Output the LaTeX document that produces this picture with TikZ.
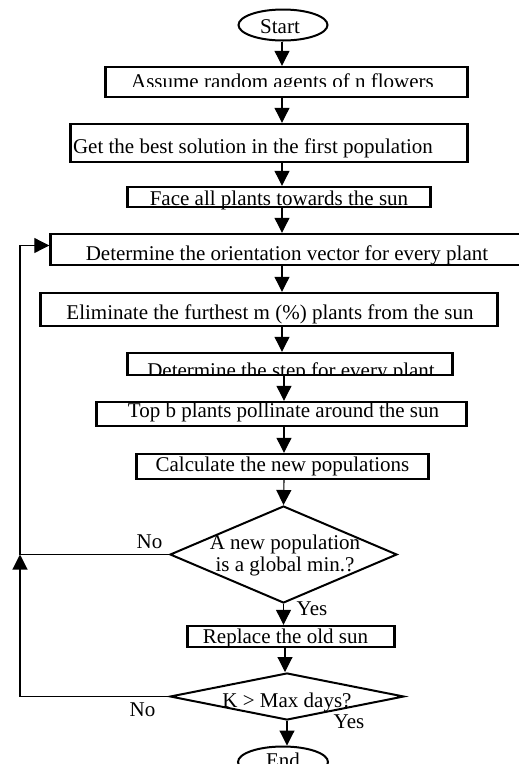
\documentclass[tikz,border=0pt]{standalone}
\usepackage{fontspec}
\setmainfont{Liberation Serif}
\usetikzlibrary{arrows.meta,shapes.geometric}
\tikzset{
  box/.style={draw, line width=2.4pt, rectangle, inner sep=0pt},
  term/.style={draw, line width=2pt, ellipse, inner sep=0pt},
  dec/.style={draw, line width=2pt, diamond, inner sep=0pt},
  txt/.style={anchor=base, inner sep=0pt, font=\fontsize{21}{22}\selectfont},
  conn/.style={line width=1.1pt},
  arr/.style={line width=1.1pt, -{Triangle[length=15pt,width=15pt]}},
}
\begin{document}
\begin{tikzpicture}[x=1pt,y=-1pt]
\useasboundingbox (0,0) rectangle (519,764);
% spine coordinates
\coordinate (sa) at (282,0);
\coordinate (sb) at (284,0);
\coordinate (sc) at (285,0);
\coordinate (lp) at (20,0);
% shapes
\node[term, minimum width=89pt, minimum height=31pt] (start) at (283,25) {};
\node[box, minimum width=362pt, minimum height=30pt] (b1) at (286.5,82) {};
\node[box, minimum width=397pt, minimum height=38pt] (b2) at (269,143) {};
\node[box, minimum width=303pt, minimum height=20pt] (b3) at (279,197) {};
\node[box, minimum width=478pt, minimum height=31pt] (b4) at (289.5,249.5) {};
\node[box, minimum width=457pt, minimum height=33pt] (b5) at (269,309.5) {};
\node[box, minimum width=325pt, minimum height=22pt] (b6) at (290,364) {};
\node[box, minimum width=370pt, minimum height=24pt] (b7) at (281.5,414) {};
\node[box, minimum width=292pt, minimum height=25pt] (b8) at (282.5,466.5) {};
\node[dec, minimum width=227pt, minimum height=97pt] (d1) at (283.5,554.5) {};
\node[box, minimum width=207pt, minimum height=21pt] (b9) at (291,636.5) {};
\node[dec, minimum width=234pt, minimum height=47pt] (d2) at (287,696.5) {};
\node[term, minimum width=90pt, minimum height=31pt] (end) at (283,762) {};
% texts
\node[txt] (tstart) at (280,33) {Start};
\begin{scope}
\clip (104,60) rectangle (469,86);
\node[txt] (t1) at (282.5,88) {Assume random agents of n flowers};
\end{scope}
\node[txt] (t2) at (253,153) {Get the best solution in the first population};
\node[txt] (t3) at (279,205) {Face all plants towards the sun};
\node[txt] (t4) at (287,260) {Determine the orientation vector for every plant};
\node[txt] (t5) at (270,319) {Eliminate the furthest m (\%) plants from the sun};
\begin{scope}
\clip (126,352) rectangle (454,375);
\node[txt] (t6) at (291,377) {Determine the step for every plant};
\end{scope}
\node[txt] (t7) at (283.5,417) {Top b plants pollinate around the sun};
\node[txt] (t8) at (282.5,471) {Calculate the new populations};
\node[txt] (t9a) at (285,549) {A new population};
\node[txt] (t9b) at (285,571) {is a global min.?};
\node[txt] (t10) at (285.5,643) {Replace the old sun};
\node[txt] (t11) at (287,707) {K > Max days?};
\node[txt] (tend) at (283,767) {End};
\node[txt] (no1) at (149.5,548) {No};
\node[txt] (yes1) at (312,615) {Yes};
\node[txt] (no2) at (142.5,716) {No};
\node[txt] (yes2) at (349,728) {Yes};
% connectors
\draw[arr] (start.south -| sa) -- (b1.north -| sa);
\draw[arr] (b1.south -| sa) -- (b2.north -| sa);
\draw[arr] (b2.south -| sa) -- (b3.north -| sa);
\draw[arr] (b3.south -| sa) -- (b4.north -| sa);
\draw[arr] (b4.south -| sa) -- (b5.north -| sa);
\draw[arr] (b5.south -| sa) -- (b6.north -| sa);
\draw[arr] (b6.south -| sb) -- (b7.north -| sb);
\draw[arr] (b7.south -| sb) -- (b8.north -| sb);
\draw[arr] (b8.south -| sb) -- (d1.north);
\draw[arr] (d1.south) -- (b9.north -| d1.south);
\draw[arr] (b9.south -| sc) -- (d2.north -| sc);
\draw[arr] (d2.south) -- (end.north -| d2.south);
\draw[conn] (d1.west) -- (d1.west -| lp);
\draw[arr] (d1.west -| lp) -- ([yshift=4pt]b4.west -| lp) -- ([yshift=4pt]b4.west);
\draw[arr] (d2.west) -- (d2.west -| lp) -- (d1.west -| lp);
\end{tikzpicture}
\end{document}
